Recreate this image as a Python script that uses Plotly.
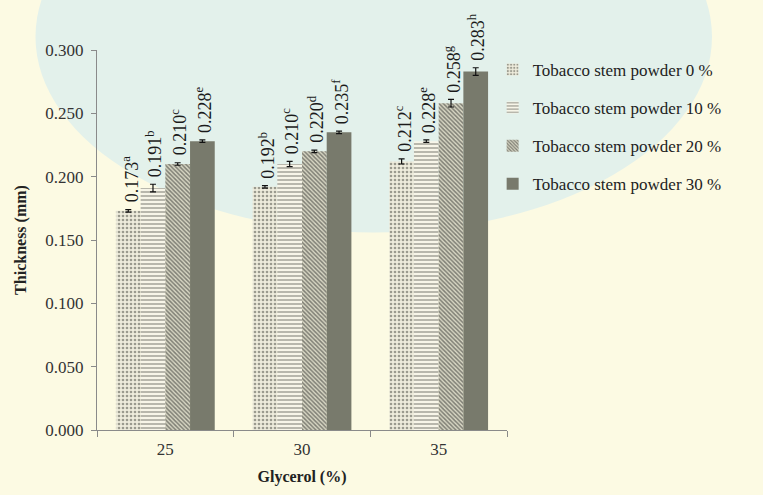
import plotly.graph_objects as go

categories = ["25", "30", "35"]
series_names = ["Tobacco stem powder 0 %", "Tobacco stem powder 10 %",
                "Tobacco stem powder 20 %", "Tobacco stem powder 30 %"]
values = [
    [0.173, 0.192, 0.212],
    [0.191, 0.210, 0.228],
    [0.210, 0.220, 0.258],
    [0.228, 0.235, 0.283],
]
errors = [
    [0.001, 0.001, 0.002],
    [0.003, 0.002, 0.001],
    [0.001, 0.001, 0.003],
    [0.001, 0.001, 0.003],
]
letters = [
    ["a", "b", "c"],
    ["b", "c", "e"],
    ["c", "d", "g"],
    ["e", "f", "h"],
]
y_ticks = [0.0, 0.05, 0.10, 0.15, 0.20, 0.25, 0.30]

FONT = "Liberation Serif"
styles = [
    dict(color="#e6e4d2", pattern=dict(shape=".", fgcolor="#9a9a8e", bgcolor="#eeecdc", size=4, solidity=0.35, fillmode="replace")),
    dict(color="#f4f2e2", pattern=dict(shape="-", fgcolor="#8e8e84", bgcolor="#f7f5e8", size=4, solidity=0.3, fillmode="replace")),
    dict(color="#bdbcaa", pattern=dict(shape="\\", fgcolor="#7e7e74", bgcolor="#d8d7c4", size=3, solidity=0.5, fillmode="replace")),
    dict(color="#787a6c"),
]

fig = go.Figure()
for i in range(4):
    fig.add_trace(go.Bar(
        x=categories, y=values[i], name=series_names[i],
        marker=dict(line=dict(width=0), **styles[i]),
        error_y=dict(type="data", array=errors[i], color="#111111", thickness=1.2, width=3),
        legendgroup=f"g{i}",
        showlegend=True,
    ))

# rotated value labels (x given as category index)
bar_w = 24.5
offsets = [-1.5 * bar_w, -0.5 * bar_w, 0.5 * bar_w, 1.5 * bar_w]
for i in range(4):
    for j in range(len(categories)):
        fig.add_annotation(
            x=j, y=values[i][j] + errors[i][j], xref="x", yref="y",
            text=f"{values[i][j]:.3f}<sup>{letters[i][j]}</sup>",
            textangle=-90, showarrow=False,
            xanchor="center", yanchor="bottom",
            xshift=offsets[i] + 1.5, yshift=5,
            font=dict(family=FONT, size=18, color="#1a1a1a"),
        )

# soft watermark-like background tint
fig.add_shape(type="circle", xref="paper", yref="paper",
              x0=-0.15, x1=1.5, y0=0.52, y1=1.55,
              fillcolor="#e3f1eb", line=dict(width=0), layer="below")

fig.update_layout(
    width=763, height=495,
    margin=dict(l=97, r=256, t=50, b=63),
    paper_bgcolor="#fcfae3",
    plot_bgcolor="rgba(0,0,0,0)",
    barmode="group", bargap=0.277, bargroupgap=0.0,
    font=dict(family=FONT, size=15, color="#333333"),
    showlegend=True,
    legend=dict(x=0.965, xanchor="left", y=0.995, yanchor="top",
                bgcolor="rgba(0,0,0,0)", tracegroupgap=13,
                font=dict(family=FONT, size=17, color="#222222"),
                itemwidth=30),
    xaxis=dict(
        type="category", range=[-0.5, 2.5], showline=True, linecolor="#8a8a8a", linewidth=1,
        ticks="outside", tickson="boundaries", ticklen=6, tickcolor="#8a8a8a",
        showgrid=False, tickfont=dict(family=FONT, size=17, color="#333333"),
        ticklabelstandoff=4,
        title=dict(text="<b>Glycerol (%)</b>", font=dict(family=FONT, size=16, color="#222222"), standoff=12),
    ),
    yaxis=dict(
        range=[0, 0.3], tickvals=y_ticks, tickformat=".3f",
        showline=True, linecolor="#8a8a8a", linewidth=1,
        ticks="outside", ticklen=5, tickcolor="#8a8a8a", showgrid=False, zeroline=False,
        tickfont=dict(family=FONT, size=17, color="#333333"), ticklabelstandoff=4,
        title=dict(text="<b>Thickness (mm)</b>", font=dict(family=FONT, size=16, color="#222222"), standoff=14),
    ),
)

fig.write_html("out.html")
